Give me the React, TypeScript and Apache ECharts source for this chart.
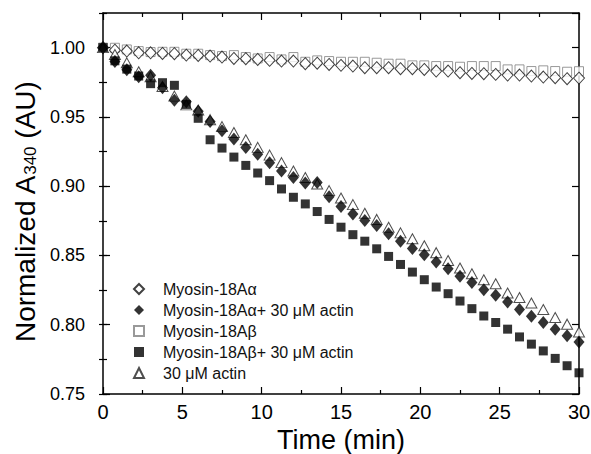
import { useEffect, useRef } from "react";
import * as echarts from "echarts";

const time = [0, 0.75, 1.5, 2.25, 3, 3.75, 4.5, 5.25, 6, 6.75, 7.5, 8.25, 9, 9.75, 10.5, 11.25, 12, 12.75, 13.5, 14.25, 15, 15.75, 16.5, 17.25, 18, 18.75, 19.5, 20.25, 21, 21.75, 22.5, 23.25, 24, 24.75, 25.5, 26.25, 27, 27.75, 28.5, 29.25, 30];

const myoAlpha = [1.000, 0.9982, 0.9975, 0.9963, 0.9963, 0.9958, 0.9956, 0.9946, 0.9944, 0.9939, 0.9932, 0.9922, 0.9920, 0.9915, 0.9908, 0.9903, 0.9903, 0.9884, 0.9888, 0.9879, 0.9872, 0.9867, 0.9855, 0.9855, 0.9855, 0.9848, 0.9848, 0.9843, 0.9831, 0.9831, 0.9819, 0.9814, 0.9812, 0.9807, 0.9802, 0.9802, 0.9795, 0.9788, 0.9783, 0.9776, 0.9780];

const myoAlphaActin = [1.000, 0.990, 0.984, 0.979, 0.980, 0.971, 0.962, 0.961, 0.954, 0.9466, 0.940, 0.934, 0.928, 0.923, 0.917, 0.911, 0.9063, 0.9023, 0.9027, 0.8924, 0.8853, 0.880, 0.8752, 0.8716, 0.8656, 0.8603, 0.855, 0.8505, 0.8452, 0.8404, 0.8349, 0.8304, 0.8253, 0.8212, 0.8164, 0.811, 0.8061, 0.8016, 0.7968, 0.792, 0.7876];

const myoBeta = [1.000, 0.9999, 0.9987, 0.9975, 0.9968, 0.9970, 0.9970, 0.9956, 0.9956, 0.9946, 0.9939, 0.9946, 0.9932, 0.9922, 0.9932, 0.9915, 0.9932, 0.9898, 0.9908, 0.9903, 0.9898, 0.9898, 0.9898, 0.9891, 0.9884, 0.9884, 0.9872, 0.9872, 0.9867, 0.9867, 0.9862, 0.9867, 0.9867, 0.9867, 0.9843, 0.9843, 0.9831, 0.9836, 0.9831, 0.9826, 0.9830];

const myoBetaActin = [1.000, 0.9905, 0.9845, 0.9795, 0.974, 0.9747, 0.9728, 0.959, 0.949, 0.9335, 0.9275, 0.921, 0.915, 0.9095, 0.904, 0.898, 0.892, 0.8872, 0.8817, 0.876, 0.8704, 0.865, 0.8603, 0.8548, 0.8493, 0.8435, 0.838, 0.8325, 0.8272, 0.8224, 0.8171, 0.8116, 0.8063, 0.8016, 0.7968, 0.7912, 0.786, 0.7811, 0.7757, 0.7704, 0.7653];

const actinOnly = [1.000, 0.995, 0.989, 0.9826, 0.979, 0.972, 0.965, 0.9587, 0.955, 0.948, 0.943, 0.9387, 0.9335, 0.928, 0.9224, 0.917, 0.911, 0.9063, 0.9016, 0.8968, 0.8915, 0.8867, 0.8804, 0.876, 0.8704, 0.8663, 0.862, 0.857, 0.852, 0.8464, 0.8409, 0.8368, 0.8325, 0.8296, 0.8229, 0.8196, 0.8157, 0.811, 0.8052, 0.8004, 0.7948];

const names = [
  "Myosin-18Aα",
  "Myosin-18Aα+ 30 μM actin",
  "Myosin-18Aβ",
  "Myosin-18Aβ+ 30 μM actin",
  "30 μM actin",
];

const xTitle = "Time (min)";
const yTitleMain = "Normalized A";
const yTitleSub = "340";
const yTitleEnd = " (AU)";

export default function App() {
  const ref = useRef<HTMLDivElement>(null);
  useEffect(() => {
    const chart = echarts.init(ref.current!, null, { renderer: "svg" });
    const font = "'Liberation Sans', Arial, sans-serif";
    const pair = (ys: number[]) => time.map((t, i) => [t, ys[i]]);
    const line = { show: true, onZero: false, lineStyle: { color: "#000", width: 1.5 } };
    const majorTick = { show: true, inside: true, length: 7, lineStyle: { color: "#000", width: 1.2 } };
    const minorTickAx = { show: true, inside: true, length: 4, lineStyle: { color: "#000", width: 1.2 } };
    const xBase = { type: "value", min: 0, max: 30, interval: 5, splitLine: { show: false } };
    const yBase = { type: "value", min: 0.75, max: 1.025, splitLine: { show: false } };

    chart.setOption({
      animation: false,
      backgroundColor: "#fff",
      grid: { left: 103, right: 12, top: 13, bottom: 60, containLabel: false, outerBoundsMode: "none" },
      xAxis: [
        {
          ...xBase,
          position: "bottom",
          axisLine: line,
          axisTick: majorTick,
          minorTick: { show: true, splitNumber: 2, length: 4, lineStyle: { color: "#000", width: 1.2 } },
          axisLabel: { fontSize: 20, color: "#000", fontFamily: font, margin: 8 },
          name: xTitle,
          nameLocation: "middle",
          nameGap: 27,
          nameTextStyle: { fontSize: 27, color: "#000", fontFamily: font },
        },
        {
          ...xBase,
          position: "top",
          axisLine: line,
          axisTick: majorTick,
          minorTick: { show: true, splitNumber: 2, length: 4, lineStyle: { color: "#000", width: 1.2 } },
          axisLabel: { show: false },
        },
      ],
      yAxis: [
        {
          ...yBase,
          interval: 0.05,
          position: "left",
          axisLine: line,
          axisTick: majorTick,
          axisLabel: {
            fontSize: 18,
            color: "#000",
            fontFamily: font,
            margin: 18,
            showMaxLabel: false,
            formatter: (v: number) => v.toFixed(2),
          },
        },
        {
          ...yBase,
          interval: 0.025,
          position: "left",
          axisLine: { show: false },
          axisTick: minorTickAx,
          axisLabel: { show: false },
        },
        {
          ...yBase,
          interval: 0.05,
          position: "right",
          axisLine: line,
          axisTick: majorTick,
          axisLabel: { show: false },
        },
        {
          ...yBase,
          interval: 0.025,
          position: "right",
          axisLine: { show: false },
          axisTick: minorTickAx,
          axisLabel: { show: false },
        },
      ],
      legend: {
        orient: "vertical",
        left: 128,
        top: 276,
        itemWidth: 10,
        itemHeight: 10,
        itemGap: 5,
        textStyle: { fontSize: 16, color: "#111", fontFamily: font, padding: [0, 0, 0, 14] },
        data: names,
      },
      graphic: [
        {
          type: "text",
          x: 25,
          y: 212,
          rotation: Math.PI / 2,
          style: {
            text: `{m|${yTitleMain}}{s|${yTitleSub}}{m|${yTitleEnd}}`,
            align: "center",
            verticalAlign: "middle",
            rich: {
              m: { fontSize: 28, fontFamily: font, fill: "#000" },
              s: { fontSize: 17, fontFamily: font, fill: "#000", lineHeight: 10, verticalAlign: "bottom" },
            },
          },
        },
      ],
      series: [
        {
          name: names[2],
          type: "scatter",
          data: pair(myoBeta),
          symbol: "rect",
          symbolSize: 9,
          itemStyle: { color: "#fff", borderColor: "#808080", borderWidth: 1 },
        },
        {
          name: names[0],
          type: "scatter",
          data: pair(myoAlpha),
          symbol: "diamond",
          symbolSize: [11, 12],
          itemStyle: { color: "#fff", borderColor: "#111", borderWidth: 1 },
        },
        {
          name: names[4],
          type: "scatter",
          data: pair(actinOnly),
          symbol: "triangle",
          symbolSize: [11, 10],
          itemStyle: { color: "#fff", borderColor: "#222", borderWidth: 1 },
        },
        {
          name: names[3],
          type: "scatter",
          data: pair(myoBetaActin),
          symbol: "rect",
          symbolSize: 9,
          itemStyle: { color: "#000" },
        },
        {
          name: names[1],
          type: "scatter",
          data: pair(myoAlphaActin),
          symbol: "diamond",
          symbolSize: [11, 13],
          itemStyle: { color: "#000" },
        },
      ],
    });
    return () => chart.dispose();
  }, []);
  return <div ref={ref} style={{ position: "fixed", left: 0, top: 0, width: 591, height: 454 }} />;
}
